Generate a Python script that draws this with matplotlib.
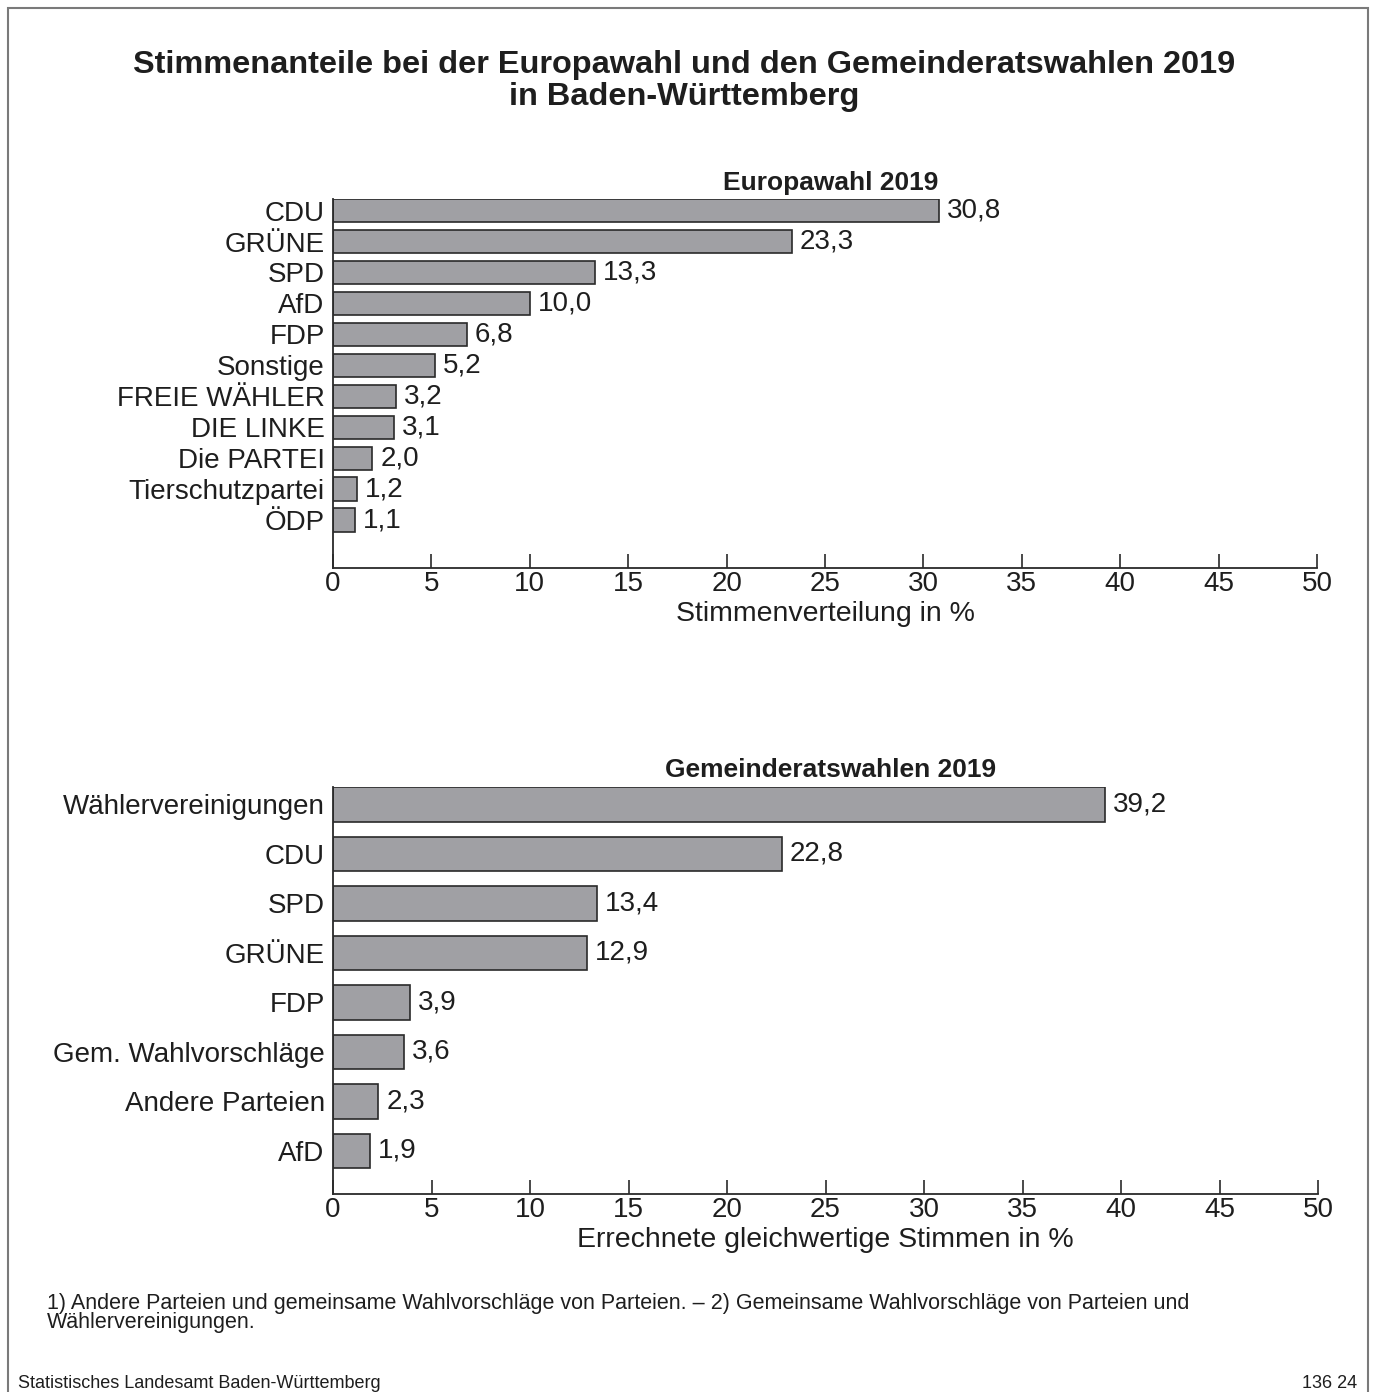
import matplotlib
matplotlib.use("Agg")
import matplotlib.pyplot as plt
from matplotlib.patches import Rectangle

plt.rcParams['font.family'] = ['Liberation Sans', 'DejaVu Sans']

# Europawahl 2019
eu_parteien = ['CDU', 'GRÜNE', 'SPD', 'AfD', 'FDP', 'Sonstige', 'FREIE WÄHLER',
               'DIE LINKE', 'Die PARTEI', 'Tierschutzpartei', 'ÖDP']
eu_werte = [30.8, 23.3, 13.3, 10.0, 6.8, 5.2, 3.2, 3.1, 2.0, 1.2, 1.1]

# Gemeinderatswahlen 2019
gr_parteien = ['Wählervereinigungen', 'CDU', 'SPD', 'GRÜNE', 'FDP',
               'Gem. Wahlvorschläge', 'Andere Parteien', 'AfD']
gr_werte = [39.2, 22.8, 13.4, 12.9, 3.9, 3.6, 2.3, 1.9]

x_ticks = [0, 5, 10, 15, 20, 25, 30, 35, 40, 45, 50]

W, H = 1375, 1392
fig = plt.figure(figsize=(W / 100, H / 100), dpi=100)

BAR_COLOR = '#a0a0a4'
EDGE = '#2a2a2a'
TXT = '#1e1e1e'
FS = 20


def balken(ax, namen, werte, hoehe, ylim, titel, xlabel):
    pos = list(range(len(namen)))
    ax.barh(pos, werte, height=hoehe, color=BAR_COLOR, edgecolor=EDGE, linewidth=1.2)
    for p, v in zip(pos, werte):
        ax.text(v + 0.4, p, f"{v:.1f}".replace('.', ','), va='center', ha='left',
                fontsize=FS, color=TXT)
    ax.set_yticks(pos)
    ax.set_yticklabels(namen, fontsize=FS, color=TXT)
    ax.set_ylim(*ylim)
    ax.set_xlim(0, 50)
    ax.set_xticks(x_ticks)
    ax.set_xticklabels([str(t) for t in x_ticks], fontsize=FS, color=TXT)
    ax.tick_params(axis='y', length=0, pad=6)
    ax.tick_params(axis='x', direction='in', length=10, width=1.2, color=EDGE, pad=2)
    for s in ['top', 'right']:
        ax.spines[s].set_visible(False)
    for s in ['left', 'bottom']:
        ax.spines[s].set_linewidth(1.3)
        ax.spines[s].set_color(EDGE)
    ax.set_xlabel(xlabel, fontsize=20.5, color=TXT, labelpad=3)
    ax.text(0.5056, 1.012, titel, transform=ax.transAxes, ha='center', va='bottom',
            fontsize=19, fontweight='bold', color=TXT)


ax1 = fig.add_axes([333 / W, 1 - 568 / H, 984 / W, 369 / H])
balken(ax1, eu_parteien, eu_werte, 0.75, (11.55, -0.375),
       'Europawahl 2019', 'Stimmenverteilung in %')

ax2 = fig.add_axes([333 / W, 1 - 1194 / H, 985 / W, 407 / H])
balken(ax2, gr_parteien, gr_werte, 0.7, (7.87, -0.35),
       'Gemeinderatswahlen 2019', 'Errechnete gleichwertige Stimmen in %')

fig.text(684 / W, 1 - 81 / H, 'Stimmenanteile bei der Europawahl und den Gemeinderatswahlen 2019\nin Baden-Württemberg',
         ha='center', va='center', fontsize=23.4, fontweight='bold', color=TXT, linespacing=1.08)

fig.text(47 / W, 1 - 1313 / H,
         '1) Andere Parteien und gemeinsame Wahlvorschläge von Parteien. – 2) Gemeinsame Wahlvorschläge von Parteien und\nWählervereinigungen.',
         ha='left', va='center', fontsize=15.5, color=TXT, linespacing=0.82)
fig.text(18 / W, 1 - 1383 / H, 'Statistisches Landesamt Baden-Württemberg',
         ha='left', va='center', fontsize=13, color=TXT)
fig.text(1357 / W, 1 - 1383 / H, '136 24', ha='right', va='center', fontsize=13, color=TXT)

# Rahmen
fig.patches.append(Rectangle((8 / W, -0.01), 1360 / W, 1 - 8 / H + 0.01,
                             transform=fig.transFigure, fill=False,
                             edgecolor='#7a7a7a', linewidth=1.5))

fig.savefig('out.png', dpi=100)
